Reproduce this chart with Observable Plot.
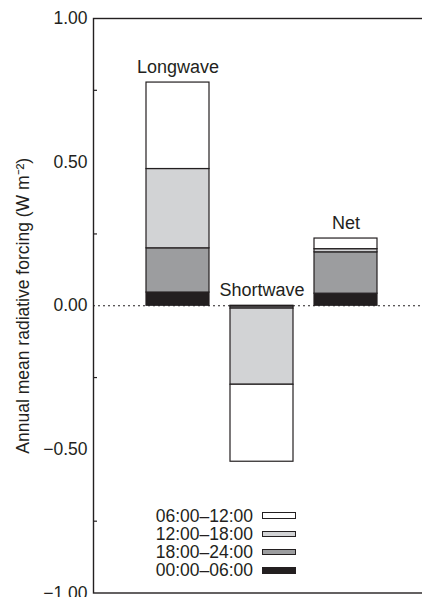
<!DOCTYPE html>
<html>
<head>
<meta charset="utf-8">
<script src="https://cdn.jsdelivr.net/npm/d3@7"></script>
<script src="https://cdn.jsdelivr.net/npm/@observablehq/plot@0.6"></script>
<style>
  html, body { margin: 0; padding: 0; background: #fff; overflow: hidden; width: 422px; height: 597px; }
  #wrap { position: relative; width: 422px; height: 597px; overflow: hidden; font-family: "Liberation Sans", Arial, Helvetica, sans-serif; }
  #legend { position: absolute; left: 120px; top: 506.5px; font-size: 17.5px; color: #231f20; }
  .row { display: flex; align-items: center; height: 18.3px; line-height: 18.3px; }
  .row span { width: 133px; text-align: right; white-space: nowrap; }
  .row i { display: inline-block; width: 31.5px; height: 4.5px; margin-left: 9px; border: 1.2px solid #231f20; }
</style>
</head>
<body>
<div id="wrap"></div>
<script>
// ---- data ----
const categories = ["Longwave", "Shortwave", "Net"];
// stacking order from zero outward
const periods = ["00:00–06:00", "18:00–24:00", "12:00–18:00", "06:00–12:00"];
const longwave = [0.046, 0.154, 0.276, 0.301];
const shortwave = [-0.003, -0.007, -0.265, -0.268];
const net = [0.042, 0.144, 0.011, 0.037];
const periodColors = ["#231f20", "#9c9d9f", "#d2d3d5", "#ffffff"];
const legendOrder = ["06:00–12:00", "12:00–18:00", "18:00–24:00", "00:00–06:00"];
const yTicks = [1, 0.5, 0, -0.5, -1];
const yMinorTicks = [0.75, 0.25, -0.25, -0.75];
const yLabel = "Annual mean radiative forcing (W m⁻²)";

// ---- build table ----
const seriesByCat = {Longwave: longwave, Shortwave: shortwave, Net: net};
const rows = [];
for (const c of categories) {
  periods.forEach((p, i) => rows.push({category: c, period: p, value: seriesByCat[c][i]}));
}
const labels = categories.map(c => ({
  category: c,
  top: d3.sum(seriesByCat[c].filter(v => v > 0))
}));

const ink = "#231f20";
const font = "'Liberation Sans', Arial, Helvetica, sans-serif";

const chart = Plot.plot({
  width: 426,
  height: 597,
  marginLeft: 93,
  marginRight: 0,
  marginTop: 18,
  marginBottom: 4.5,
  style: {fontFamily: font, fontSize: "17.5px", color: ink, background: "#fff", maxWidth: "none", overflow: "hidden"},
  x: {domain: categories, paddingInner: 0.25, paddingOuter: 0.607, align: 0.52, axis: null},
  y: {domain: [-1, 1], axis: null},
  color: {domain: periods, range: periodColors},
  marks: [
    Plot.ruleY([0], {stroke: ink, strokeWidth: 1, strokeDasharray: "2,3"}),
    Plot.barY(rows, Plot.stackY({x: "category", y: "value", fill: "period", stroke: ink, strokeWidth: 1.2})),
    Plot.frame({stroke: ink, strokeWidth: 1.4}),
    Plot.axisY({ticks: yTicks, tickSize: 0, tickPadding: 6, tickFormat: d3.format(".2f"),
      fontSize: 17.5, label: yLabel, labelAnchor: "center", labelOffset: 77, labelArrow: "none"}),
    Plot.axisY({ticks: yMinorTicks, tickSize: 4, dx: 4, tickFormat: () => "", label: null, stroke: ink, strokeWidth: 1.2}),
    Plot.text(labels, {x: "category", y: "top", text: "category", dy: -9.5, lineAnchor: "bottom", fontSize: 18, fill: ink})
  ]
});

const wrap = document.getElementById("wrap");
wrap.appendChild(chart);

// legend overlay
const colorOf = Object.fromEntries(periods.map((p, i) => [p, periodColors[i]]));
const legend = document.createElement("div");
legend.id = "legend";
for (const p of legendOrder) {
  const r = document.createElement("div");
  r.className = "row";
  const s = document.createElement("span");
  s.textContent = p;
  const sw = document.createElement("i");
  sw.style.background = colorOf[p];
  r.appendChild(s);
  r.appendChild(sw);
  legend.appendChild(r);
}
wrap.appendChild(legend);
</script>
</body>
</html>
